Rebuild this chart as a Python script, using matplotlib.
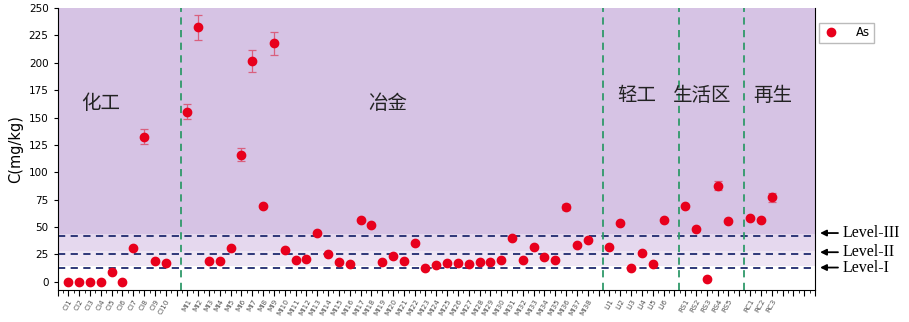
#!/usr/bin/env python
from matplotlib import pyplot as plt
import numpy as np

# sample groups
ci_labels = ['CI%d' % i for i in range(1, 11)]
ci_values = [0, 0, 0, 0, 9, 0, 31, 132.5, 19, 17.3]
ci_err = [0, 0, 0, 0, 0, 0, 0, 7, 0, 0]

mi_labels = ['MI%d' % i for i in range(1, 39)]
mi_values = [155.2, 232.2, 19, 19, 31.3, 116, 201.5, 69.5, 217.6, 29,
             20.3, 21.2, 44.9, 25.8, 18.2, 16, 56.7, 52.2, 18, 23.6,
             18.8, 35, 13, 15.5, 17.6, 17.6, 16, 18.5, 18.5, 20.3,
             39.7, 20.3, 31.8, 22.7, 20, 68.2, 33.6, 38]
mi_err = [7, 11.4, 0, 0, 0, 6, 10, 0, 10.7, 0,
          0, 0, 0, 0, 0, 0, 0, 0, 0, 0,
          0, 0, 0, 0, 0, 0, 0, 0, 0, 0,
          0, 0, 0, 0, 0, 2.5, 0, 0]

li_labels = ['LI%d' % i for i in range(1, 7)]
li_values = [31.8, 53.6, 13, 26.4, 16, 56]
li_err = [0, 0, 0, 0, 0, 0]

rs_labels = ['RS%d' % i for i in range(1, 6)]
rs_values = [68.8, 47.9, 2.2, 87.9, 55.2]
rs_err = [0, 0, 0, 4, 0]

rc_labels = ['RC%d' % i for i in range(1, 4)]
rc_values = [58.5, 56.7, 77.3]
rc_err = [0, 0, 4]

region_names = ['化工', '冶金', '轻工', '生活区', '再生']
level_names = ['Level-I', 'Level-II', 'Level-III']
level_values = [13, 25.5, 42]
level_arrow_y = [13, 27, 44.5]

# lay the groups out on one axis with an empty slot between them
groups = [(ci_labels, ci_values, ci_err), (mi_labels, mi_values, mi_err),
          (li_labels, li_values, li_err), (rs_labels, rs_values, rs_err),
          (rc_labels, rc_values, rc_err)]
labels, values, errs, xs, gaps, centers = [], [], [], [], [], []
pos = 0
for lab, val, err in groups:
    start = pos
    for l, v, e in zip(lab, val, err):
        labels.append(l)
        values.append(v)
        errs.append(e)
        xs.append(pos)
        pos += 1
    centers.append((start + pos - 1) / 2)
    gaps.append(pos)
    pos += 1
gaps = gaps[:-1]

fig = plt.figure(figsize=(9.09, 3.22), dpi=100)
ax = fig.add_axes([0.0633, 0.0994, 0.8333, 0.8758])

# background bands
ax.axhspan(14, 28, color='#efe6f4', zorder=0, lw=0)
ax.axhspan(28, 44, color='#e5d8ee', zorder=0, lw=0)
ax.axhspan(44, 260, color='#d6c3e4', zorder=0, lw=0)

# level lines
for lv in level_values:
    ax.axhline(lv, color='#1f2a6e', ls=(0, (4, 3)), lw=1.3, zorder=1)

# group separators
for g in gaps:
    ax.axvline(g + 0.45, color='#2f9a6a', ls=(0, (4, 3)), lw=1.3, zorder=1)

ax.errorbar(xs, values, yerr=errs, fmt='none', ecolor='#d9607e',
            elinewidth=0.9, capsize=3, capthick=0.9, zorder=2)
ax.plot(xs, values, 'o', color='#e8001c', ms=6, ls='none', label='As', zorder=3)

ax.set_xlim(-0.97, 69.0)
ax.set_ylim(-7.5, 250)
ax.set_yticks(np.arange(0, 251, 25))
ax.tick_params(axis='y', labelsize=7.5, length=3, direction='out')

# ticks on every slot, labels only on samples
all_ticks = np.arange(-1, 70)
tick_labels = [''] * len(all_ticks)
for x, l in zip(xs, labels):
    tick_labels[x + 1] = l
ax.set_xticks(all_ticks)
ax.set_xticklabels(tick_labels, rotation=60, ha='right', rotation_mode='anchor',
                   fontsize=5.3, color='#555555')
ax.set_xticks(np.arange(-0.5, 69, 1), minor=True)
ax.tick_params(axis='x', which='major', length=4, pad=2)
ax.tick_params(axis='x', which='minor', length=2)

ax.spines['top'].set_visible(False)
ax.set_ylabel('C(mg/kg)', fontsize=10.5, labelpad=4)

# region names
cjk = ['Noto Sans CJK SC', 'DejaVu Sans']
ax.text(centers[0] - 1.5, 163, region_names[0], fontsize=14, family=cjk,
        ha='center', va='center', color='#222222')
ax.text(centers[1], 163, region_names[1], fontsize=14, family=cjk,
        ha='center', va='center', color='#222222')
ax.text(centers[2], 170, region_names[2], fontsize=14, family=cjk,
        ha='center', va='center', color='#222222')
ax.text(centers[3] - 0.4, 170, region_names[3], fontsize=14, family=cjk,
        ha='center', va='center', color='#222222')
ax.text(centers[4] + 1.1, 170, region_names[4], fontsize=14, family=cjk,
        ha='center', va='center', color='#222222')

# level arrows and names
for name, ly in zip(level_names, level_arrow_y):
    ax.annotate('', xy=(1.003, ly), xytext=(1.034, ly),
                xycoords=('axes fraction', 'data'),
                arrowprops=dict(arrowstyle='-|>', color='black', lw=1.3,
                                mutation_scale=9),
                annotation_clip=False)
    ax.text(1.036, ly, name, transform=ax.get_yaxis_transform(),
            family='Liberation Serif', fontsize=11.5, va='center', ha='left')

ax.legend(loc='upper left', bbox_to_anchor=(0.895, 0.948),
          bbox_transform=fig.transFigure, fontsize=8.5, fancybox=False,
          edgecolor='#bbbbbb', borderpad=0.3, handletextpad=1.4,
          handlelength=1.4, framealpha=1)

plt.savefig('out.png', dpi=100)
